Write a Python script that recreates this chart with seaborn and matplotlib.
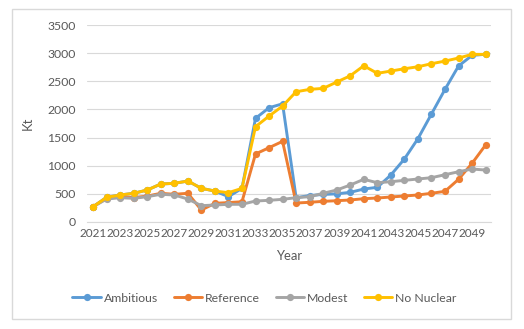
import matplotlib
matplotlib.use("Agg")
import matplotlib.pyplot as plt
import seaborn as sns
import pandas as pd
from matplotlib.lines import Line2D
from matplotlib.patches import Rectangle

years = list(range(2021, 2051))
ambitious = [272, 440, 480, 510, 568, 675, 687, 728, 598, 550, 450, 598, 1841, 2030, 2100,
             432, 470, 490, 500, 527, 586, 616, 835, 1119, 1480, 1918, 2356, 2771, 2960, 2980]
reference = [272, 420, 450, 435, 460, 510, 492, 510, 213, 332, 345, 360, 1208, 1320, 1433,
             337, 350, 367, 378, 391, 414, 426, 444, 462, 480, 510, 545, 758, 1042, 1368]
modest = [272, 408, 432, 420, 450, 492, 480, 408, 290, 302, 314, 314, 373, 385, 403,
          432, 450, 510, 568, 657, 758, 698, 716, 740, 764, 787, 840, 893, 941, 923]
no_nuclear = [272, 438, 480, 510, 568, 675, 687, 728, 598, 550, 521, 598, 1693, 1882, 2060,
              2314, 2356, 2374, 2486, 2598, 2776, 2641, 2682, 2723, 2758, 2812, 2859, 2913, 2978, 2978]
series_names = ["Ambitious", "Reference", "Modest", "No Nuclear"]
colors = ["#5B9BD5", "#ED7D31", "#A5A5A5", "#FFC000"]
xtick_labels = [str(y) for y in range(2021, 2050, 2)]
yticks = list(range(0, 3501, 500))

df = pd.DataFrame({
    "Year": years * 4,
    "Kt": ambitious + reference + modest + no_nuclear,
    "Scenario": sum([[n] * len(years) for n in series_names], []),
})

sns.set_theme(style="white")
plt.rcParams["font.family"] = ["Lato", "DejaVu Sans"]
text_color = "#595959"

fig = plt.figure(figsize=(5.24, 3.29), dpi=100)
ax = fig.add_axes([87 / 524, 1 - 222 / 329, (491 - 87) / 524, (222 - 25) / 329])

sns.lineplot(data=df, x="Year", y="Kt", hue="Scenario", hue_order=series_names,
             palette=colors, marker="o", markersize=5.2, markeredgewidth=0,
             linewidth=2.1, ax=ax, legend=False)

ax.set_xlim(2020.55, 2050.4)
ax.set_ylim(0, 3500)
ax.set_yticks(yticks)
ax.set_xticks(list(range(2021, 2050, 2)))
ax.set_xticklabels(xtick_labels)
ax.grid(axis="y", color="#D9D9D9", linewidth=0.8)
ax.grid(axis="x", visible=False)
for s in ["left", "right", "top"]:
    ax.spines[s].set_visible(False)
ax.spines["bottom"].set_color("#D9D9D9")
ax.spines["bottom"].set_linewidth(0.8)
ax.set_axisbelow(True)
ax.tick_params(axis="both", length=0, labelsize=8.8, colors=text_color, pad=4)
ax.tick_params(axis="x", labelsize=8.5)
ax.tick_params(axis="y", pad=8)
ax.set_xlabel("Year", fontsize=9.4, color=text_color, labelpad=8)
ax.set_ylabel("Kt", fontsize=9.4, color=text_color, labelpad=10)

handles = [Line2D([0], [0], color=c, lw=2.1, marker="o", markersize=5.2, markeredgewidth=0)
           for c in colors]
fig.legend(handles, series_names, loc="center", bbox_to_anchor=(0.505, 1 - 298 / 329),
           ncol=4, frameon=False, fontsize=8.8, labelcolor=text_color,
           handlelength=2.3, handletextpad=0.25, columnspacing=1.3)

fig.patches.append(Rectangle((12 / 524, 1 - 319 / 329), (511 - 12) / 524, (319 - 9) / 329,
                             transform=fig.transFigure, fill=False,
                             edgecolor="#D9D9D9", linewidth=1))

fig.savefig("out.png", dpi=100)
